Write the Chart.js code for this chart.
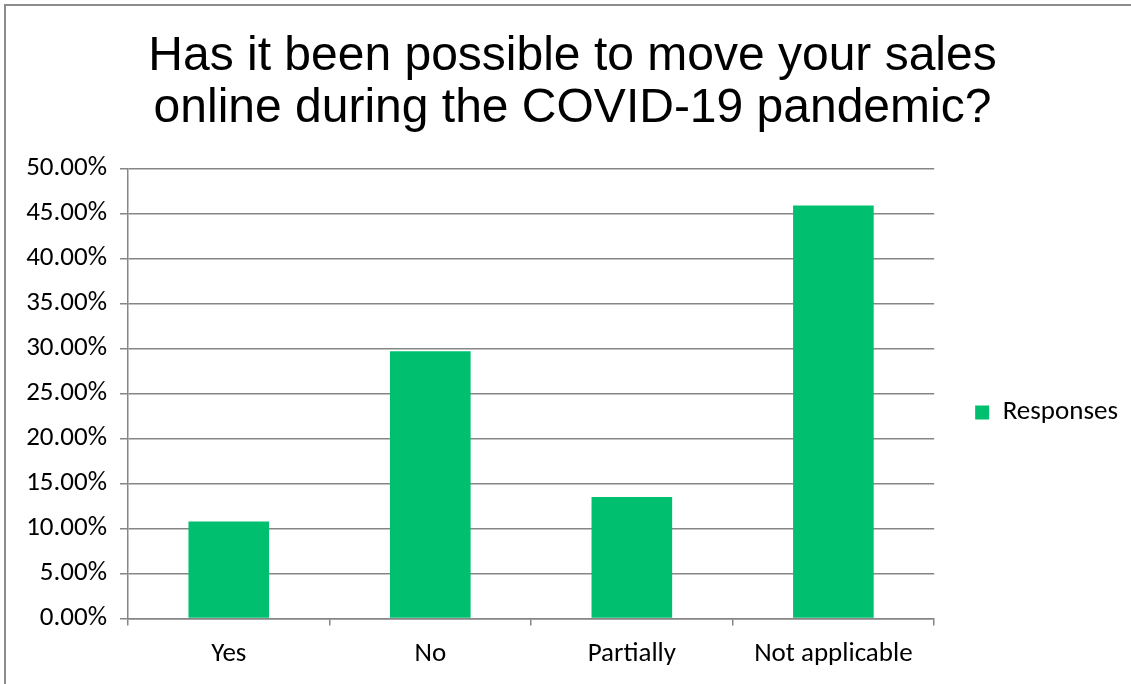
<!DOCTYPE html>
<html>
<head>
<meta charset="utf-8">
<script src="https://cdn.jsdelivr.net/npm/chart.js@4.4.1/dist/chart.umd.min.js"></script>
<style>
  html, body { margin: 0; padding: 0; background: #fff; overflow: hidden; }
  #frame { position: absolute; left: 4px; top: 4px; width: 1140px; height: 700px;
           border-left: 2px solid #8c8c8c; border-top: 2px solid #8c8c8c; }
  #wrap { position: absolute; left: 0; top: 0; width: 1131px; height: 684px; }
</style>
</head>
<body>
<div id="frame"></div>
<div id="wrap"><canvas id="myChart"></canvas></div>
<script>
const titleLines = ['Has it been possible to move your sales', 'online during the COVID-19 pandemic?'];
const categories = ['Yes', 'No', 'Partially', 'Not applicable'];
const responses = [10.8, 29.7, 13.5, 45.9];
const seriesName = 'Responses';

const gridColor = '#868686';
const barColor = '#00bf6f';
const tickFont = { family: "Carlito, Calibri, Lato, 'Open Sans', sans-serif", size: 27 };

// nudge the title and legend a bit to the right, like the original
const boxShift = {
    id: 'boxShift',
    afterLayout(chart) {
        const lg = chart.legend;
        if (lg) { lg.left += 31; lg.right += 31; }
        const tt = chart.titleBlock;
        if (tt) { tt.left += 24; tt.right += 24; }
    }
};

const ctx = document.getElementById('myChart').getContext('2d');
const myChart = new Chart(ctx, {
    type: 'bar',
    data: {
        labels: categories,
        datasets: [{
            label: seriesName,
            data: responses,
            backgroundColor: barColor,
            barPercentage: 0.4,
            categoryPercentage: 1.0
        }]
    },
    options: {
        responsive: true,
        maintainAspectRatio: false,
        animation: false,
        layout: { padding: { left: 0, right: 34, top: 8, bottom: 2 } },
        plugins: {
            title: {
                display: true,
                text: titleLines,
                color: '#000',
                font: { family: "'Liberation Sans', Arial, sans-serif", size: 48, weight: 'normal', lineHeight: 1.1 },
                padding: { top: 22, bottom: 33 }
            },
            legend: {
                position: 'right',
                fullSize: false,
                title: { display: true, text: ' ', padding: 0, font: { size: 20, lineHeight: 1.9 } },
                labels: {
                    color: '#000',
                    font: { family: tickFont.family, size: 27 },
                    boxWidth: 14,
                    boxHeight: 14,
                    padding: 10
                }
            },
            tooltip: { enabled: false }
        },
        scales: {
            x: {
                grid: {
                    display: true,
                    drawOnChartArea: false,
                    drawTicks: true,
                    tickLength: 7,
                    color: gridColor,
                    lineWidth: 1.5
                },
                border: { color: gridColor, width: 1.5 },
                ticks: { color: '#000', font: tickFont, padding: 12 }
            },
            y: {
                min: 0,
                max: 50,
                ticks: {
                    stepSize: 5,
                    color: '#000',
                    font: tickFont,
                    padding: 13,
                    callback: v => v.toFixed(2) + '%'
                },
                grid: { color: gridColor, lineWidth: 1.5, tickLength: 8 },
                border: { color: gridColor, width: 1.5 },
                afterFit: s => { s.width = 128; }
            }
        }
    },
    plugins: [boxShift]
});
</script>
</body>
</html>
